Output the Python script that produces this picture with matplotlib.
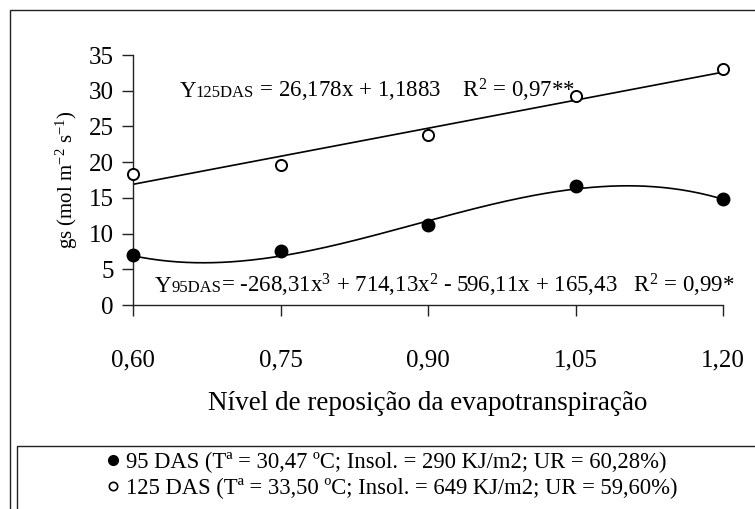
import matplotlib
matplotlib.use("Agg")
import matplotlib.pyplot as plt
import numpy as np
from matplotlib.lines import Line2D
from matplotlib.patches import Rectangle
from matplotlib.offsetbox import TextArea, HPacker, AnnotationBbox

plt.rcParams["font.family"] = ["Liberation Serif", "DejaVu Serif"]
plt.rcParams["mathtext.fontset"] = "custom"
plt.rcParams["mathtext.rm"] = "Liberation Serif"
plt.rcParams["mathtext.it"] = "Liberation Serif:italic"

# nível de reposição da ETc
niveis = [0.60, 0.75, 0.90, 1.05, 1.20]
tick_labels = ["0,60", "0,75", "0,90", "1,05", "1,20"]

# condutância estomática observada
gs_95 = [7.0, 7.5, 11.2, 16.7, 14.8]
gs_125 = [18.3, 19.6, 23.8, 29.3, 33.0]

# coeficientes das regressões (maior grau primeiro)
coef_95 = [-268.31, 714.13, -596.11, 165.43]
coef_125 = [26.178, 1.1883]

leg_95 = "95 DAS (Tª = 30,47 ºC; Insol. = 290 KJ/m2; UR = 60,28%)"
leg_125 = "125 DAS (Tª = 33,50 ºC; Insol. = 649 KJ/m2; UR = 59,60%)"

W, H = 755, 509
fig = plt.figure(figsize=(W / 100, H / 100), dpi=100)
ax = fig.add_axes([133 / W, 1 - 305 / H, (723 - 133) / W, (305 - 55) / H])

xs = np.linspace(0.60, 1.20, 200)
ax.plot(xs, np.polyval(coef_95, xs), color="black", lw=1.2)
ax.plot(xs, np.polyval(coef_125, xs), color="black", lw=1.2)
ax.plot(niveis, gs_95, "o", ms=9, mfc="black", mec="black", clip_on=False, zorder=5)
ax.plot(niveis, gs_125, "o", ms=8, mfc="white", mec="black", mew=1.4, clip_on=False, zorder=5)

ax.set_xlim(0.60, 1.20)
ax.set_ylim(0, 35)
ax.set_xticks(niveis)
ax.set_xticklabels(tick_labels)
ax.set_yticks(range(0, 36, 5))
for s in ["top", "right"]:
    ax.spines[s].set_visible(False)
for s in ["left", "bottom"]:
    ax.spines[s].set_color("#222222")
    ax.spines[s].set_linewidth(1.0)
ax.tick_params(axis="both", direction="out", length=8, width=1.0, color="#222222",
               labelsize=18)
ax.tick_params(axis="x", pad=24)
ax.tick_params(axis="y", pad=6)

ax.set_xlabel("Nível de reposição da evapotranspiração", fontsize=19.5, labelpad=14)
ax.set_ylabel(r"gs (mol m$^{-2}$ s$^{-1}$)", fontsize=15, labelpad=6)


def equacao(partes, xy):
    caixas = [TextArea(t, textprops=dict(fontsize=fs, color="black")) for t, fs in partes]
    box = HPacker(children=caixas, align="baseline", pad=0, sep=0)
    ab = AnnotationBbox(box, xy, xycoords="data", box_alignment=(0, 0.5),
                        frameon=False, pad=0)
    ax.add_artist(ab)


equacao([("Y", 16.5), ("125DAS", 12),
         (r" = 26,178x + 1,1883    R$^{2}$ = 0,97**", 16.5)], (0.647, 30.1))
equacao([("Y", 16.5), ("95DAS", 12),
         (r"= -268,31x$^{3}$ + 714,13x$^{2}$ - 596,11x + 165,43   R$^{2}$ = 0,99*", 16.5)],
        (0.622, 2.8))

# moldura externa e caixa da legenda
fig.patches.append(Rectangle((10 / W, -0.05), 1.1, (1 - 10 / H) + 0.05,
                             transform=fig.transFigure, fill=False,
                             ec="#222222", lw=1.0))
fig.patches.append(Rectangle((17 / W, -0.05), 1.1, (1 - 446 / H) + 0.05,
                             transform=fig.transFigure, fill=False,
                             ec="#222222", lw=1.0))

handles = [
    Line2D([], [], ls="none", marker="o", ms=7, mfc="black", mec="black"),
    Line2D([], [], ls="none", marker="o", ms=6, mfc="white", mec="black", mew=1.2),
]
fig.legend(handles, [leg_95, leg_125], loc="upper left",
           bbox_to_anchor=(106 / W, 1 - 452 / H), frameon=False, fontsize=16.3,
           handlelength=0.6, handletextpad=0.3, labelspacing=0.2,
           borderaxespad=0, borderpad=0)

fig.savefig("out.png", dpi=100)
